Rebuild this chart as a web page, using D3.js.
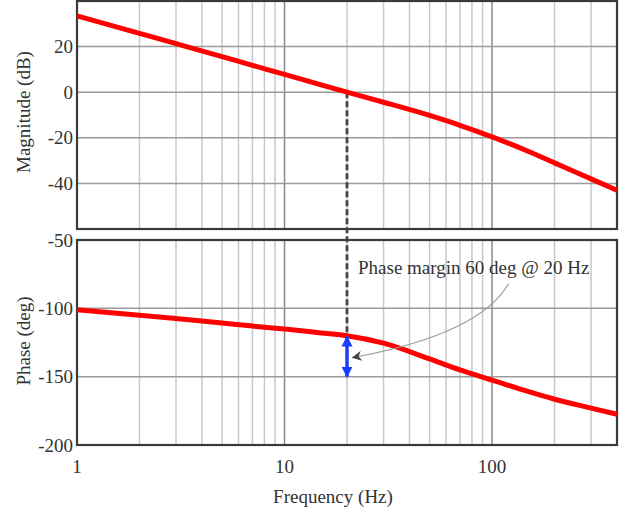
<!DOCTYPE html>
<html>
<head>
<meta charset="utf-8">
<script src="https://cdn.jsdelivr.net/npm/d3@7"></script>
<style>
    body { margin: 0; background: #fff; }
    text { font-family: "Liberation Serif", "DejaVu Serif", serif; fill: #333; }
</style>
</head>
<body>
<svg id="chart" width="628" height="516"></svg>
<script>
// values
const freqs = [1, 2, 3, 5, 7, 10, 15, 20, 30, 50, 70, 100, 150, 200, 300, 400];
const magnitude = [33.5, 25.8, 21.3, 15.6, 11.8, 7.8, 3.2, 0, -4.4, -10.2, -14.5, -19.6, -26, -31, -38, -43];
const phase = [-101, -105, -107.5, -110.8, -113, -115.2, -118, -120, -125.5, -137, -145, -152.5, -161, -166.5, -173, -177.5];

const magTicks = [20, 0, -20, -40];
const phaseTicks = [-50, -100, -150, -200];
const freqTicks = [1, 10, 100];

const crossover = { freq: 20, mag: 0, phase: -120 };
const marginArrow = [-120, -150];
const note = { text: "Phase margin 60 deg @ 20 Hz", freq: 22.6, phase: -75 };
const noteArrow = { from: [120, -82], via: [87, -119], to: [21.3, -136] };

const svg = d3.select("#chart");
const left = 77, right = 617;
const fontSize = 19;

const x = d3.scaleLog().domain([1, 400]).range([left, right]);
const yMag = d3.scaleLinear().domain([-60, 40]).range([229, 1]);
const yPh = d3.scaleLinear().domain([-200, -50]).range([445, 240]);

// minor ticks 2..9 per decade up to 400
const minorTicks = x.ticks().filter((t) => t > 1 && t < 400 && !freqTicks.includes(t));

const drawPanel = (y, yTicks, label, labelY) => {
    const g = svg.append("g");
    const [y0, y1] = y.range();

    g.selectAll("line.minor")
        .data(minorTicks)
        .join("line")
        .attr("x1", (d) => x(d))
        .attr("x2", (d) => x(d))
        .attr("y1", y1)
        .attr("y2", y0)
        .attr("stroke", "#c8c8c8")
        .attr("stroke-width", 1.5);

    g.selectAll("line.major")
        .data(freqTicks.slice(1))
        .join("line")
        .attr("x1", (d) => x(d))
        .attr("x2", (d) => x(d))
        .attr("y1", y1)
        .attr("y2", y0)
        .attr("stroke", "#8a8a8a")
        .attr("stroke-width", 1.5);

    g.selectAll("line.h")
        .data(yTicks.filter((t) => y(t) > y1 + 2 && y(t) < y0 - 2))
        .join("line")
        .attr("x1", left)
        .attr("x2", right)
        .attr("y1", (d) => y(d))
        .attr("y2", (d) => y(d))
        .attr("stroke", "#9a9a9a")
        .attr("stroke-width", 1.5);

    g.append("rect")
        .attr("x", left)
        .attr("y", y1)
        .attr("width", right - left)
        .attr("height", y0 - y1)
        .attr("fill", "none")
        .attr("stroke", "#3a3a3a")
        .attr("stroke-width", 2.2);

    g.selectAll("text.tick")
        .data(yTicks)
        .join("text")
        .attr("x", left - 4)
        .attr("y", (d) => y(d))
        .attr("dy", "0.35em")
        .attr("text-anchor", "end")
        .attr("font-size", fontSize)
        .text((d) => d);

    g.append("text")
        .attr("transform", `translate(23,${labelY}) rotate(-90)`)
        .attr("dy", "0.35em")
        .attr("text-anchor", "middle")
        .attr("font-size", fontSize)
        .text(label);
};

drawPanel(yMag, magTicks, "Magnitude (dB)", 112);
drawPanel(yPh, phaseTicks, "Phase (deg)", 341);

svg.selectAll("text.xtick")
    .data(freqTicks)
    .join("text")
    .attr("x", (d) => x(d))
    .attr("y", 466)
    .attr("dy", "0.35em")
    .attr("text-anchor", "middle")
    .attr("font-size", fontSize)
    .text((d) => d);

svg.append("text")
    .attr("x", 333)
    .attr("y", 496)
    .attr("dy", "0.35em")
    .attr("text-anchor", "middle")
    .attr("font-size", fontSize)
    .text("Frequency (Hz)");

// crossover dashed line
svg.append("line")
    .attr("x1", x(crossover.freq))
    .attr("x2", x(crossover.freq))
    .attr("y1", yMag(crossover.mag))
    .attr("y2", yPh(crossover.phase))
    .attr("stroke", "#444")
    .attr("stroke-width", 2.8)
    .attr("stroke-dasharray", "6 3");

// curves
const magLine = d3.line().x((d, i) => x(freqs[i])).y((d) => yMag(d)).curve(d3.curveMonotoneX);
const phLine = d3.line().x((d, i) => x(freqs[i])).y((d) => yPh(d)).curve(d3.curveMonotoneX);

svg.append("path")
    .attr("d", magLine(magnitude))
    .attr("fill", "none")
    .attr("stroke", "#ff0000")
    .attr("stroke-width", 5);

svg.append("path")
    .attr("d", phLine(phase))
    .attr("fill", "none")
    .attr("stroke", "#ff0000")
    .attr("stroke-width", 5);

// phase margin double arrow
const defs = svg.append("defs");
defs.append("marker")
    .attr("id", "blueHead")
    .attr("viewBox", "0 0 10 10")
    .attr("refX", 9)
    .attr("refY", 5)
    .attr("markerUnits", "userSpaceOnUse")
    .attr("markerWidth", 11)
    .attr("markerHeight", 12)
    .attr("orient", "auto-start-reverse")
    .append("path")
    .attr("d", "M0,0 L10,5 L0,10 Z")
    .attr("fill", "#1a3cff");

defs.append("marker")
    .attr("id", "grayHead")
    .attr("viewBox", "0 0 10 10")
    .attr("refX", 9)
    .attr("refY", 5)
    .attr("markerUnits", "userSpaceOnUse")
    .attr("markerWidth", 12)
    .attr("markerHeight", 10)
    .attr("orient", "auto")
    .append("path")
    .attr("d", "M0,0 L10,5 L0,10 L3,5 Z")
    .attr("fill", "#444");

svg.append("line")
    .attr("x1", x(crossover.freq))
    .attr("x2", x(crossover.freq))
    .attr("y1", yPh(marginArrow[0]) + 1)
    .attr("y2", yPh(marginArrow[1]))
    .attr("stroke", "#1a3cff")
    .attr("stroke-width", 3.5)
    .attr("marker-start", "url(#blueHead)")
    .attr("marker-end", "url(#blueHead)");

// annotation
svg.append("text")
    .attr("x", x(note.freq))
    .attr("y", yPh(note.phase))
    .attr("font-size", fontSize)
    .text(note.text);

const p0 = [x(noteArrow.from[0]), yPh(noteArrow.from[1])];
const c = [x(noteArrow.via[0]), yPh(noteArrow.via[1])];
const p2 = [x(noteArrow.to[0]), yPh(noteArrow.to[1])];
const curvePath = d3.path();
curvePath.moveTo(p0[0], p0[1]);
curvePath.quadraticCurveTo(c[0], c[1], p2[0], p2[1]);

svg.append("path")
    .attr("d", curvePath.toString())
    .attr("fill", "none")
    .attr("stroke", "#9a9a9a")
    .attr("stroke-width", 1.2)
    .attr("marker-end", "url(#grayHead)");
</script>
</body>
</html>
